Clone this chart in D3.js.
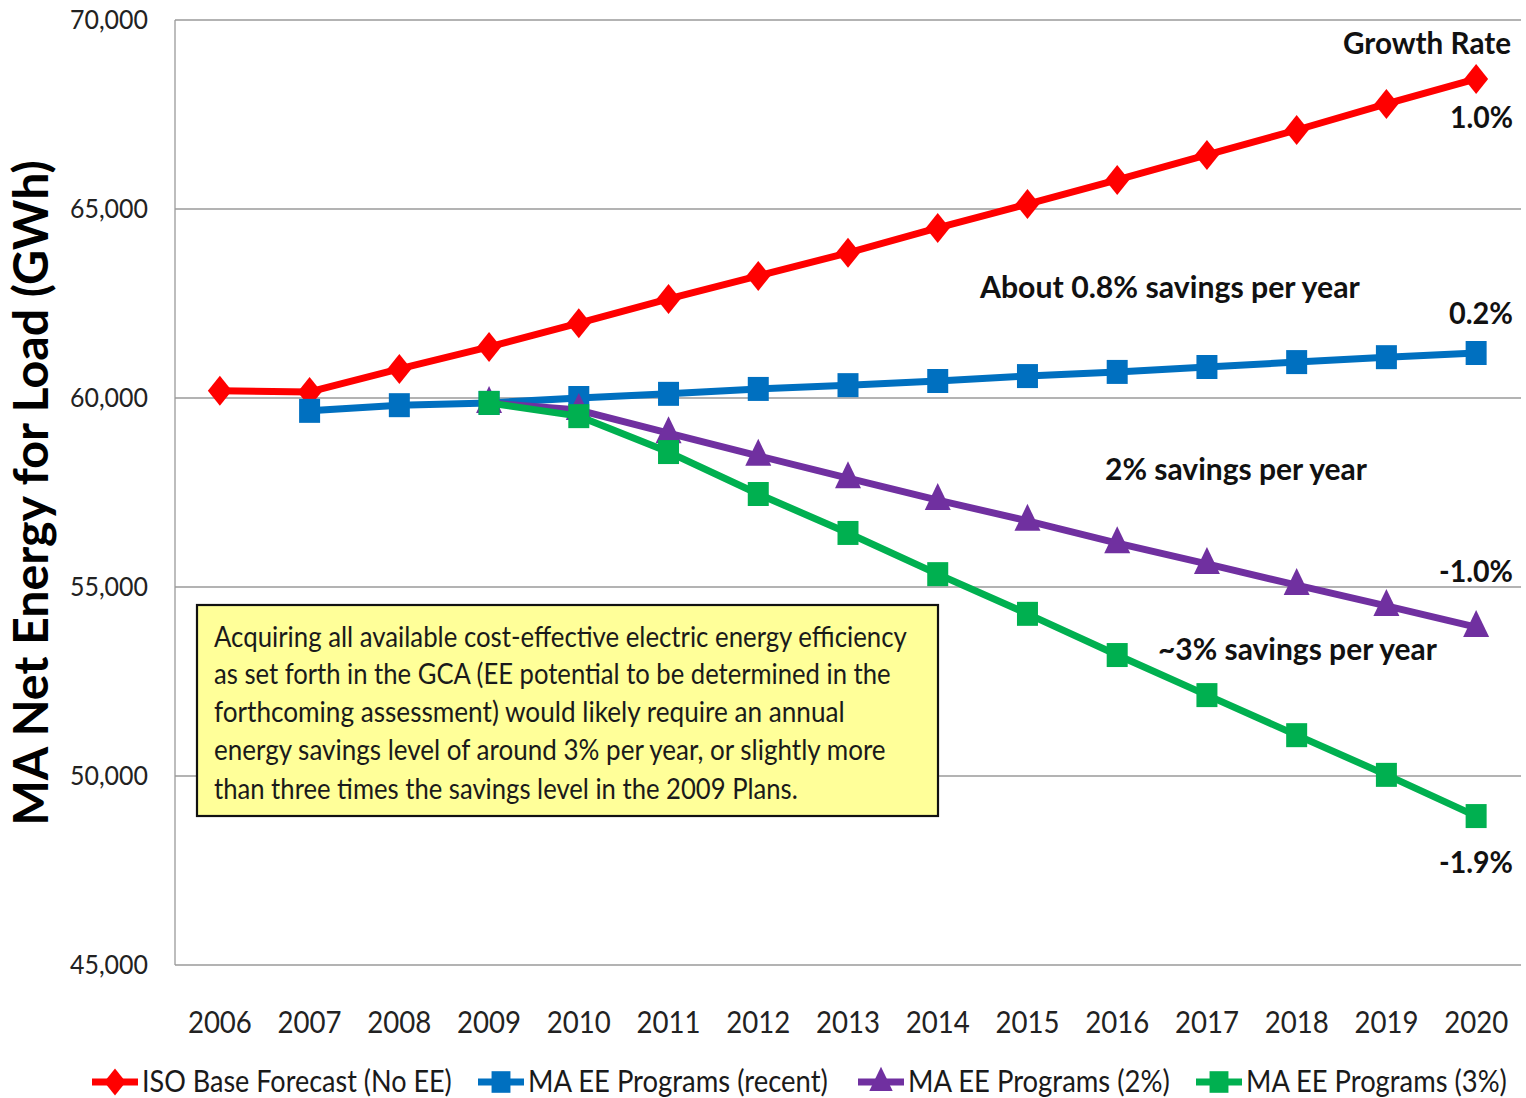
<!DOCTYPE html>
<html><head><meta charset="utf-8">
<script src="https://cdn.jsdelivr.net/npm/d3@7"></script>
<style>
html,body{margin:0;padding:0;background:#fff;}
svg text{font-family:Lato,"Open Sans",sans-serif;}
</style></head>
<body>
<svg id="chart" width="1526" height="1098"></svg>
<script>
const years = ["2006","2007","2008","2009","2010","2011","2012","2013","2014","2015","2016","2017","2018","2019","2020"];
const isoBase = [60190,60160,60770,61350,61980,62620,63230,63840,64500,65130,65770,66430,67090,67780,68440];
const maRecent = [null,59660,59810,59870,60000,60110,60240,60340,60450,60580,60690,60820,60950,61080,61190];
const ma2 = [null,null,null,59870,59680,59070,58470,57880,57300,56750,56160,55610,55050,54500,53940];
const ma3 = [null,null,null,59870,59520,58570,57460,56430,55340,54290,53200,52140,51080,50030,48940];
const yTicks = [45000,50000,55000,60000,65000,70000];
const seriesNames = ["ISO Base Forecast (No EE)","MA EE Programs (recent)","MA EE Programs (2%)","MA EE Programs (3%)"];
const growthLabels = ["1.0%","0.2%","-1.0%","-1.9%"];
const boxLines = [
 "Acquiring all available cost-effective electric energy efficiency",
 "as set forth in the GCA (EE potential to be determined in the",
 "forthcoming assessment) would likely require an annual",
 "energy savings level of around 3% per year, or slightly more",
 "than three times the savings level in the 2009 Plans."
];

const svg = d3.select("#chart");
const L = 175, R = 1521, T = 20, B = 965;
const x = d3.scaleBand().domain(years).range([L, R]);
const xc = d => x(d) + x.bandwidth()/2;
const y = d3.scaleLinear().domain([45000,70000]).range([B, T]);

// horizontally scale a text element so its width equals w (keeps real bbox)
function fit(sel, w){
  sel.each(function(){
    const el = this;
    const w0 = el.getComputedTextLength();
    const s = w / w0;
    const ax = +(el.getAttribute("x") || 0);
    const prev = el.getAttribute("transform") || "";
    el.setAttribute("transform", `${prev} translate(${ax},0) scale(${s},1) translate(${-ax},0)`);
  });
  return sel;
}

// gridlines
svg.append("g").selectAll("line").data(yTicks).join("line")
  .attr("x1", L).attr("x2", R).attr("y1", d=>y(d)).attr("y2", d=>y(d))
  .attr("stroke", "#9a9a9a").attr("stroke-width", 1.3);
svg.append("line").attr("x1", L).attr("x2", L).attr("y1", T).attr("y2", B)
  .attr("stroke", "#9a9a9a").attr("stroke-width", 1.3);

// y axis labels
const yAxis = svg.append("g").attr("transform", `translate(${L},0)`)
  .call(d3.axisLeft(y).tickValues(yTicks).tickFormat(d3.format(",")).tickSize(0).tickPadding(27));
yAxis.select(".domain").remove();
yAxis.selectAll("text").attr("font-size", 26).attr("fill", "#222")
  .style("font-family","Lato").each(function(){ fit(d3.select(this), 78); });

// x axis labels
const xAxis = svg.append("g").attr("transform", `translate(0,${B})`)
  .call(d3.axisBottom(x).tickSize(0).tickPadding(46));
xAxis.select(".domain").remove();
xAxis.selectAll("text").attr("font-size", 31).attr("fill", "#222")
  .style("font-family","Lato").each(function(){ fit(d3.select(this), 64); });

// y title
svg.append("text").attr("transform", "translate(48,493) rotate(-90)")
  .attr("text-anchor","middle").attr("font-size", 47).attr("font-weight", 700)
  .attr("fill","#000").text("MA Net Energy for Load (GWh)").call(fit, 666);

// yellow box
svg.append("rect").attr("x",197).attr("y",605).attr("width",741).attr("height",211)
  .attr("fill","#ffff99").attr("stroke","#111").attr("stroke-width",2.2);
const boxW = [693,677,631,672,584];
const boxY = [637,674,712,750,789];
boxLines.forEach((t,i)=>{
  svg.append("text").attr("x",214).attr("y",boxY[i]).attr("dy","0.35em")
    .attr("font-size",28).attr("fill","#1a1a1a").text(t).call(fit, boxW[i]);
});

// series
const colors = ["#ff0000","#0070c0","#7030a0","#00b050"];
const shapes = ["diamond","square","triangle","square"];
const allSeries = [isoBase, maRecent, ma2, ma3];
const line = d3.line().defined(d=>d.v!=null).x(d=>xc(d.yr)).y(d=>y(d.v));

function markerPath(shape){
  const p = d3.path();
  if (shape === "diamond"){ p.moveTo(0,-15); p.lineTo(12,0); p.lineTo(0,15); p.lineTo(-12,0); p.closePath(); }
  else if (shape === "square"){ p.rect(-10.5,-12,21,24); }
  else { p.moveTo(0,-17); p.lineTo(13,10); p.lineTo(-13,10); p.closePath(); }
  return p.toString();
}
function drawMarker(g, shape, k, color, cx, cy){
  g.append("path").attr("d", markerPath(shape))
    .attr("transform", `translate(${cx},${cy}) scale(${k})`).attr("fill", color);
}

allSeries.forEach((s,i)=>{
  const pts = years.map((yr,j)=>({yr, v:s[j]}));
  const g = svg.append("g");
  g.append("path").datum(pts).attr("d", line).attr("fill","none")
    .attr("stroke", colors[i]).attr("stroke-width", 7).attr("stroke-linejoin","round");
  pts.filter(p=>p.v!=null).forEach(p=>drawMarker(g, shapes[i], 1, colors[i], xc(p.yr), y(p.v)));
});

// annotations
function ann(txt, xr, yc, w, size, anchor){
  svg.append("text").attr("x", xr).attr("y", yc).attr("dy","0.35em")
    .attr("text-anchor", anchor||"end").attr("font-size", size).attr("font-weight",700)
    .attr("fill","#111").text(txt).call(fit, w);
}
ann("Growth Rate", 1511, 44, 168, 30);
const glY = [117,313,571,862];
const glW = [63,64,74,74];
growthLabels.forEach((t,i)=>ann(t, 1513, glY[i], glW[i], 31));
ann("About 0.8% savings per year", 980, 288, 380, 30, "start");
ann("2% savings per year", 1105, 470, 262, 30, "start");
ann("~3% savings per year", 1158, 650, 279, 30, "start");

// legend
const legX = [92, 478, 858, 1196];
const legW = [310, 300, 262, 261];
seriesNames.forEach((n,i)=>{
  const g = svg.append("g");
  g.append("line").attr("x1", legX[i]).attr("x2", legX[i]+46).attr("y1",1082).attr("y2",1082)
    .attr("stroke", colors[i]).attr("stroke-width", 7);
  drawMarker(g, shapes[i], 0.9, colors[i], legX[i]+23, 1082);
  g.append("text").attr("x", legX[i]+50).attr("y", 1082).attr("dy","0.35em")
    .attr("font-size", 30).attr("fill","#1a1a1a").text(n).call(fit, legW[i]);
});
</script>
</body></html>
